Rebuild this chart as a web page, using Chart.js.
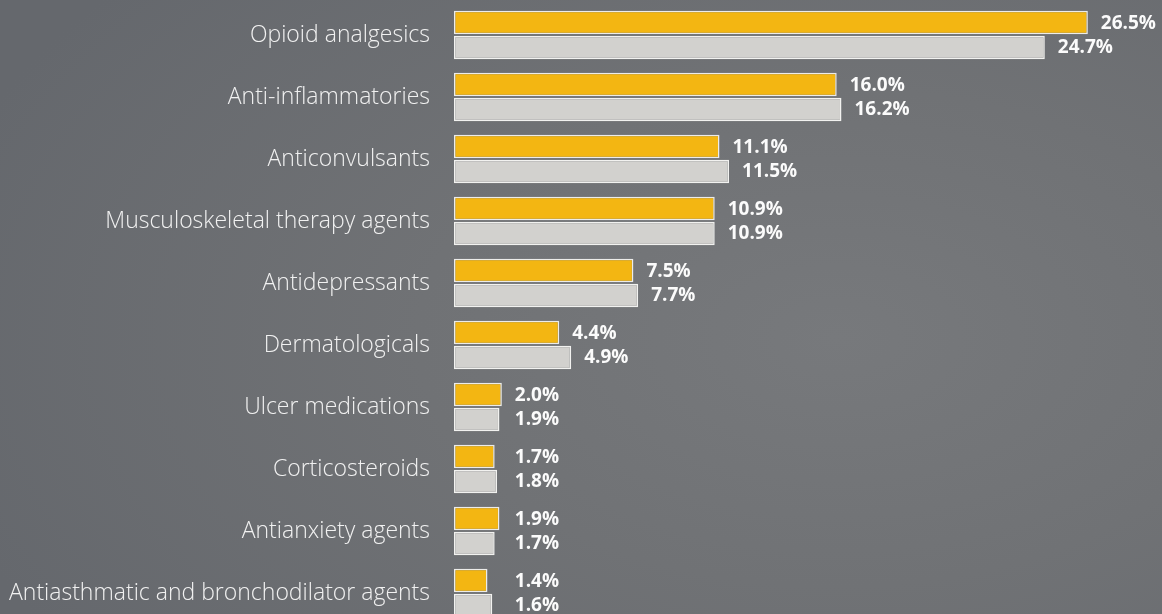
<!DOCTYPE html>
<html>
<head>
<meta charset="utf-8">
<script src="https://cdn.jsdelivr.net/npm/chart.js@4/dist/chart.umd.min.js"></script>
<style>
  html, body { margin: 0; padding: 0; overflow: hidden; }
  body {
    width: 1162px; height: 614px;
    background: radial-gradient(ellipse 80% 90% at 72% 55%, #77797c 0%, #707275 45%, #65686d 100%);
  }
  #wrap { width: 1162px; height: 630px; }
</style>
</head>
<body>
<div id="wrap"><canvas id="drugChart"></canvas></div>
<script>
// categories, top to bottom
const categories = [
    'Opioid analgesics',
    'Anti-inflammatories',
    'Anticonvulsants',
    'Musculoskeletal therapy agents',
    'Antidepressants',
    'Dermatologicals',
    'Ulcer medications',
    'Corticosteroids',
    'Antianxiety agents',
    'Antiasthmatic and bronchodilator agents'
];

// yellow bars (upper bar of each pair)
const yellowValues = [26.5, 16.0, 11.1, 10.9, 7.5, 4.4, 2.0, 1.7, 1.9, 1.4];
// gray bars (lower bar of each pair)
const grayValues = [24.7, 16.2, 11.5, 10.9, 7.7, 4.9, 1.9, 1.8, 1.7, 1.6];

// labels next to the bars
const yellowLabels = yellowValues.map(v => v.toFixed(1) + '%');
const grayLabels = grayValues.map(v => v.toFixed(1) + '%');

const barLabels = {
    id: 'barLabels',
    afterDatasetsDraw(chart) {
        const ctx = chart.ctx;
        const xs = chart.scales.x;
        const minX = xs.getPixelForValue(2.0);
        const texts = [yellowLabels, grayLabels];
        ctx.save();
        ctx.font = 'bold 19px "Open Sans"';
        ctx.fillStyle = '#fbfbfb';
        ctx.textAlign = 'left';
        ctx.textBaseline = 'middle';
        chart.data.datasets.forEach((ds, di) => {
            const meta = chart.getDatasetMeta(di);
            meta.data.forEach((bar, i) => {
                const x = Math.max(bar.x, minX) + 13;
                ctx.fillText(texts[di][i], x, bar.y + (di === 0 ? 1.5 : 0.5));
            });
        });
        ctx.restore();
    }
};

const ctx = document.getElementById('drugChart').getContext('2d');

const drugChart = new Chart(ctx, {
    type: 'bar',
    data: {
        labels: categories,
        datasets: [{
            label: 'Yellow',
            data: yellowValues,
            backgroundColor: '#f3b612',
            borderColor: '#ececea',
            borderWidth: 1.5,
            borderSkipped: false,
            categoryPercentage: 0.81,
            barPercentage: 0.94,
        }, {
            label: 'Gray',
            data: grayValues,
            backgroundColor: '#d2d1ce',
            borderColor: '#f2f2f0',
            borderWidth: 1.5,
            borderSkipped: false,
            categoryPercentage: 0.81,
            barPercentage: 0.94,
        }],
    },
    options: {
        indexAxis: 'y',
        responsive: true,
        maintainAspectRatio: false,
        animation: false,
        layout: { padding: { top: 4, bottom: 6, left: 0, right: 0 } },
        plugins: {
            legend: { display: false },
            tooltip: { enabled: false },
        },
        scales: {
            x: {
                display: false,
                min: 0,
                max: 29.6,
            },
            y: {
                grid: { display: false, drawTicks: false },
                border: { display: false },
                afterFit(scale) {
                    scale.width = 454;
                    scale.paddingTop = 0;
                    scale.paddingBottom = 0;
                },
                ticks: {
                    color: '#f1f1f1',
                    padding: 24,
                    font: { family: '"Open Sans"', size: 23, weight: '300' },
                },
            },
        },
    },
    plugins: [barLabels],
});
</script>
</body>
</html>
